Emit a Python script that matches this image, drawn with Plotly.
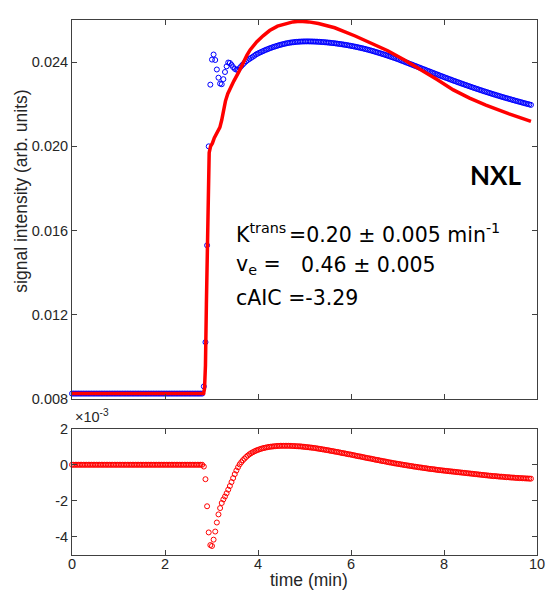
import plotly.graph_objects as go

# ---------------- data ----------------
# sampling step of the acquisition (min)
dt = 0.035

# measured signal, in units of 1e-6 (arb. units)
signal_u = [8260] * 81 + [
    8600, 10700, 15300, 20000, 22930, 24120, 24360, 24100, 23650, 23260,   # 81-90
    22980, 22950, 23190, 23530, 23800, 23980, 23960, 23870, 23760, 23680,  # 91-100
    23640, 23630, 23720, 23810, 23890, 23970, 24040, 24100, 24150, 24200,  # 101-110
    24250, 24300, 24360, 24400, 24440, 24475, 24510, 24545, 24580, 24610,  # 111-120
    24640, 24670, 24700, 24725, 24750, 24775, 24800, 24820, 24840, 24860,  # 121-130
    24880, 24895, 24910, 24925, 24935, 24945, 24955, 24962, 24968, 24973,  # 131-140
    24977, 24980, 24982, 24983, 24983, 24982, 24980, 24978, 24975, 24972,  # 141-150
    24968, 24963, 24958, 24952, 24946, 24939, 24932, 24924, 24916, 24907,  # 151-160
    24898, 24888, 24878, 24867, 24856, 24844, 24832, 24819, 24806, 24792,  # 161-170
    24778, 24763, 24748, 24732, 24716, 24699, 24682, 24664, 24646, 24627,  # 171-180
    24607, 24586, 24565, 24543, 24521, 24498, 24475, 24452, 24428, 24404,  # 181-190
    24380, 24355, 24330, 24305, 24279, 24253, 24227, 24200, 24173, 24146,  # 191-200
    24116, 24086, 24056, 24026, 23996, 23966, 23936, 23906, 23876, 23846,  # 201-210
    23816, 23786, 23756, 23726, 23696, 23666, 23636, 23606, 23576, 23546,  # 211-220
    23516, 23486, 23456, 23426, 23396, 23366, 23336, 23306, 23277, 23248,  # 221-230
    23219, 23190, 23161, 23132, 23104, 23076, 23048, 23020, 22992, 22964,  # 231-240
    22937, 22910, 22883, 22856, 22829, 22802, 22776, 22750, 22724, 22698,  # 241-250
    22672, 22646, 22620, 22595, 22570, 22546, 22522, 22498, 22474, 22450,  # 251-260
    22426, 22402, 22378, 22354, 22332, 22310, 22288, 22266, 22244, 22222,  # 261-270
    22200, 22178, 22156, 22135, 22114, 22093, 22072, 22051, 22030, 22010,  # 271-280
    21990, 21970,                                                          # 281-282
]

# residuals (fit - data), in units of 1e-3
residual_e3 = [0.0] * 81 + [
    -0.10, -0.80, -2.30, -3.75, -4.45, -4.50, -4.15, -3.70, -3.20, -2.75,
    -2.40, -2.12, -1.92, -1.76, -1.58, -1.38, -1.18, -0.96, -0.74, -0.52,
    -0.32, -0.14, 0.02, 0.14, 0.25, 0.34, 0.43, 0.51, 0.58, 0.64,
    0.69, 0.74, 0.78, 0.82, 0.85, 0.88, 0.91, 0.93, 0.95, 0.97,
    0.99, 1.00, 1.01, 1.02, 1.03, 1.04, 1.04, 1.05, 1.05, 1.05,
    1.05, 1.05, 1.05, 1.05, 1.04, 1.04, 1.03, 1.03, 1.02, 1.02,
    1.01, 1.00, 0.99, 0.98, 0.97, 0.96, 0.95, 0.94, 0.93, 0.91,
    0.90, 0.88, 0.87, 0.85, 0.84, 0.82, 0.81, 0.79, 0.77, 0.76,
    0.74, 0.72, 0.71, 0.69, 0.67, 0.65, 0.64, 0.62, 0.60, 0.58,
    0.57, 0.55, 0.53, 0.51, 0.49, 0.47, 0.46, 0.44, 0.42, 0.40,
    0.38, 0.36, 0.35, 0.33, 0.31, 0.29, 0.27, 0.26, 0.24, 0.22,
    0.20, 0.19, 0.17, 0.15, 0.13, 0.12, 0.10, 0.08, 0.07, 0.05,
    0.04, 0.02, 0.01, -0.01, -0.02, -0.04, -0.05, -0.07, -0.08, -0.10,
    -0.11, -0.12, -0.14, -0.15, -0.16, -0.18, -0.19, -0.20, -0.22, -0.23,
    -0.24, -0.25, -0.26, -0.28, -0.29, -0.30, -0.31, -0.32, -0.33, -0.34,
    -0.35, -0.36, -0.37, -0.38, -0.39, -0.40, -0.41, -0.42, -0.43, -0.44,
    -0.45, -0.46, -0.47, -0.48, -0.49, -0.50, -0.51, -0.52, -0.53, -0.54,
    -0.55, -0.56, -0.57, -0.58, -0.59, -0.60, -0.61, -0.62, -0.63, -0.63,
    -0.64, -0.65, -0.66, -0.66, -0.67, -0.68, -0.69, -0.69, -0.70, -0.71,
    -0.71, -0.72, -0.73, -0.73, -0.74, -0.74, -0.75, -0.75, -0.76, -0.76,
    -0.77, -0.77,
]

# model fit curve (time in min, value in units of 1e-6)
fit_time = [0.0, 2.83, 2.85, 2.87, 2.89, 2.91, 2.93, 2.95, 2.98, 3.02,
            3.06, 3.10, 3.14, 3.18, 3.22, 3.26, 3.30, 3.35, 3.40, 3.48,
            3.59, 3.69, 3.76, 3.83, 3.90, 3.97, 4.11, 4.25, 4.42, 4.60,
            4.75, 4.90, 5.09, 5.30, 5.65, 6.09, 6.29, 6.79, 7.15, 7.50,
            7.85, 8.20, 8.55, 8.90, 9.40, 9.87]
fit_u = [8260, 8260, 8500, 9600, 12500, 15800, 18500, 19700, 20000, 20150,
         20400, 20550, 20680, 20900, 21250, 21750, 22150, 22500, 22750, 23100,
         23550, 24050, 24320, 24580, 24780, 24960, 25250, 25500, 25710, 25840,
         25910, 25940, 25910, 25830, 25630, 25240, 25030, 24540, 24100, 23650,
         23170, 22680, 22290, 21960, 21540, 21190]

time = [round(i * dt, 3) for i in range(len(signal_u))]
signal = [v * 1e-6 for v in signal_u]
fit = [v * 1e-6 for v in fit_u]

x_ticks = [0, 2, 4, 6, 8, 10]
y_ticks_top = [0.008, 0.012, 0.016, 0.020, 0.024]
y_ticklabels_top = ["0.008", "0.012", "0.016", "0.020", "0.024"]
y_ticks_bot = [-4, -2, 0, 2]
y_ticklabels_bot = ["-4", "-2", "0", "2"]

# ---------------- figure ----------------
W, H = 557, 594
L, R, T, B = 72, 545, 13, 555          # plot area in pixels
TOP_BOTTOM_PX, BOT_TOP_PX = 397, 427


def px(x):
    return (x - L) / (R - L)


def py(y):
    return (B - y) / (B - T)


AX = "#404040"
TXT = "#262626"
SANS = "Liberation Sans, Arial, sans-serif"
TICKFONT = dict(family=SANS, size=14.5, color=TXT)

fig = go.Figure()
fig.add_trace(go.Scatter(
    x=time, y=signal, mode="markers", xaxis="x", yaxis="y",
    marker=dict(symbol="circle-open", size=5, color="#0000ff", line=dict(width=1, color="#0000ff")),
    cliponaxis=False, showlegend=False, hoverinfo="skip"))
fig.add_trace(go.Scatter(
    x=fit_time, y=fit, mode="lines", xaxis="x", yaxis="y",
    line=dict(color="#ff0000", width=3.5), cliponaxis=False, showlegend=False, hoverinfo="skip"))
fig.add_trace(go.Scatter(
    x=time, y=residual_e3, mode="markers", xaxis="x2", yaxis="y2",
    marker=dict(symbol="circle-open", size=5, color="#ff0000", line=dict(width=1, color="#ff0000")),
    cliponaxis=False, showlegend=False, hoverinfo="skip"))

axis_common = dict(showline=True, linecolor=AX, linewidth=1, mirror="ticks",
                   ticks="inside", ticklen=5, tickcolor=AX, tickwidth=1,
                   showgrid=False, zeroline=False, tickfont=TICKFONT)

fig.update_layout(
    width=W, height=H,
    margin=dict(l=L, r=W - R, t=T, b=H - B, pad=0),
    paper_bgcolor="white", plot_bgcolor="white",
    xaxis=dict(domain=[0, 1], range=[0, 10], anchor="y", tickvals=x_ticks,
               showticklabels=False, **axis_common),
    yaxis=dict(domain=[py(TOP_BOTTOM_PX), 1], range=[0.008, 0.026], anchor="x",
               tickvals=y_ticks_top, ticktext=y_ticklabels_top, **axis_common),
    xaxis2=dict(domain=[0, 1], range=[0, 10], anchor="y2", tickvals=x_ticks,
                ticktext=[str(v) for v in x_ticks], ticklabelstandoff=-4, **axis_common),
    yaxis2=dict(domain=[0, py(BOT_TOP_PX)], range=[-5, 2], anchor="x2",
                tickvals=y_ticks_bot, ticktext=y_ticklabels_bot, **axis_common),
)

PARAMFONT = dict(family="DejaVu Sans, Verdana, sans-serif", size=20.5, color="black")
ann = []
# axis titles
ann.append(dict(text="signal intensity (arb. units)", x=px(20), y=py(186), xref="paper", yref="paper",
                textangle=-90, showarrow=False, xanchor="center", yanchor="middle",
                font=dict(family=SANS, size=17.5, color=TXT)))
ann.append(dict(text="time (min)", x=px(313), y=py(580), xref="paper", yref="paper",
                showarrow=False, xanchor="center", yanchor="middle",
                font=dict(family=SANS, size=17.5, color=TXT)))
# exponent label of residual axis
ann.append(dict(text="×10<sup>-3</sup>", x=px(73), y=py(425), xref="paper", yref="paper",
                showarrow=False, xanchor="left", yanchor="bottom",
                font=dict(family=SANS, size=14.5, color=TXT)))
# labels inside top panel
ann.append(dict(text="<b>NXL</b>", x=px(503), y=py(170), xref="paper", yref="paper",
                showarrow=False, xanchor="center", yanchor="middle",
                font=dict(family="Lato, Calibri, sans-serif", size=26, color="black")))
ann.append(dict(text="K<sup>trans</sup>", x=px(237), y=py(229), xref="paper", yref="paper",
                showarrow=False, xanchor="left", yanchor="middle", font=PARAMFONT))
ann.append(dict(text="=0.20 ± 0.005 min<sup>-1</sup>", x=px(291), y=py(229), xref="paper", yref="paper",
                showarrow=False, xanchor="left", yanchor="middle", font=PARAMFONT))
ann.append(dict(text="v<sub>e</sub> =", x=px(237), y=py(261), xref="paper", yref="paper",
                showarrow=False, xanchor="left", yanchor="middle", font=PARAMFONT))
ann.append(dict(text="0.46 ± 0.005", x=px(303), y=py(261), xref="paper", yref="paper",
                showarrow=False, xanchor="left", yanchor="middle", font=PARAMFONT))
ann.append(dict(text="cAIC =-3.29", x=px(237), y=py(295), xref="paper", yref="paper",
                showarrow=False, xanchor="left", yanchor="middle", font=PARAMFONT))
fig.update_layout(annotations=ann)

fig.write_html("out.html", config={"displayModeBar": False},
               post_script="document.body.style.margin='0px';")
